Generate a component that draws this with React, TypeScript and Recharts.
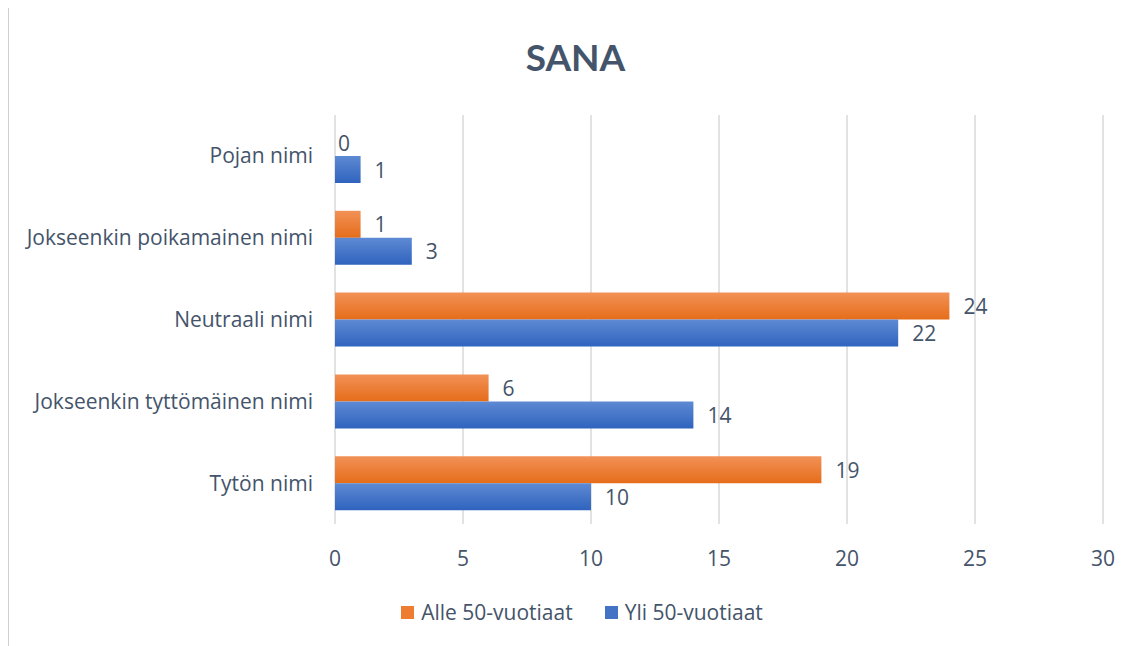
import React from 'react';
import {BarChart, Bar, XAxis, YAxis, CartesianGrid, Legend, LabelList} from 'recharts';

const categories = [
  'Pojan nimi',
  'Jokseenkin poikamainen nimi',
  'Neutraali nimi',
  'Jokseenkin tyttömäinen nimi',
  'Tytön nimi',
];
const alle50 = [0, 1, 24, 6, 19];
const yli50 = [1, 3, 22, 14, 10];
const xTicks = [0, 5, 10, 15, 20, 25, 30];

const data = categories.map((name, i) => ({name, alle: alle50[i], yli: yli50[i]}));

const textColor = '#44546A';
const font = '"Open Sans", Lato, sans-serif';
const fs = 21;

const legendItems = [
  {name: 'Alle 50-vuotiaat', color: '#EE7D31'},
  {name: 'Yli 50-vuotiaat', color: '#4472C4'},
];

// own label so that zero-width bars still get their number
const valueLabel = (props: any) => {
  const {x, y, width, height, value} = props;
  const off = Number(value) === 0 ? 3 : 14;
  return (
    <text
      x={Number(x) + Number(width) + off}
      y={Number(y) + Number(height) / 2}
      dominantBaseline="central"
      fill={textColor}
      fontSize={fs}
      fontFamily={font}
    >
      {value}
    </text>
  );
};

const renderLegend = () => (
  <div style={{display: 'flex', justifyContent: 'center', gap: 32, paddingLeft: 52}}>
    {legendItems.map(it => (
      <div key={it.name} style={{display: 'flex', alignItems: 'center', gap: 7}}>
        <span style={{width: 13, height: 13, background: it.color, display: 'inline-block'}} />
        <span style={{color: textColor, fontSize: fs, fontFamily: font}}>{it.name}</span>
      </div>
    ))}
  </div>
);

const App: React.FC = () => {
  return (
    <div
      style={{
        position: 'relative',
        width: 1133,
        height: 640,
        marginTop: -1,
        border: '1px solid #D0D0D0',
        fontFamily: font,
      }}
    >
      <div
        style={{
          position: 'absolute',
          top: 26,
          left: 0,
          width: '100%',
          textAlign: 'center',
          fontSize: 37,
          fontWeight: 700,
          color: textColor,
          fontFamily: 'Lato, sans-serif',
        }}
      >
        SANA
      </div>
      <BarChart
        width={1133}
        height={640}
        data={data}
        layout="vertical"
        margin={{top: 107, right: 39, left: 0, bottom: 0}}
        barSize={27}
        barGap={0}
      >
        <defs>
          <linearGradient id="gOrange" x1="0" y1="0" x2="0" y2="1">
            <stop offset="0%" stopColor="#F29157" />
            <stop offset="100%" stopColor="#E56D1A" />
          </linearGradient>
          <linearGradient id="gBlue" x1="0" y1="0" x2="0" y2="1">
            <stop offset="0%" stopColor="#5E8AD3" />
            <stop offset="100%" stopColor="#2F63BE" />
          </linearGradient>
        </defs>
        <CartesianGrid horizontal={false} stroke="#D9D9D9" strokeWidth={1.5} />
        <XAxis
          type="number"
          domain={[0, 30]}
          ticks={xTicks}
          axisLine={false}
          tickLine={false}
          height={96}
          tickMargin={21}
          tick={{fill: textColor, fontSize: fs, fontFamily: font}}
        />
        <YAxis
          type="category"
          dataKey="name"
          width={326}
          axisLine={false}
          tickLine={false}
          tickMargin={16}
          tick={{fill: textColor, fontSize: fs, fontFamily: font}}
        />
        <Legend verticalAlign="bottom" content={renderLegend} wrapperStyle={{bottom: 22}} />
        <Bar
          dataKey="alle"
          name="Alle 50-vuotiaat"
          fill="url(#gOrange)"
          isAnimationActive={false}
          minPointSize={(v: any) => (Number(v) === 0 ? 0.01 : 0)}
        >
          <LabelList dataKey="alle" content={valueLabel} />
        </Bar>
        <Bar dataKey="yli" name="Yli 50-vuotiaat" fill="url(#gBlue)" isAnimationActive={false}>
          <LabelList dataKey="yli" content={valueLabel} />
        </Bar>
      </BarChart>
    </div>
  );
};

export default App;
